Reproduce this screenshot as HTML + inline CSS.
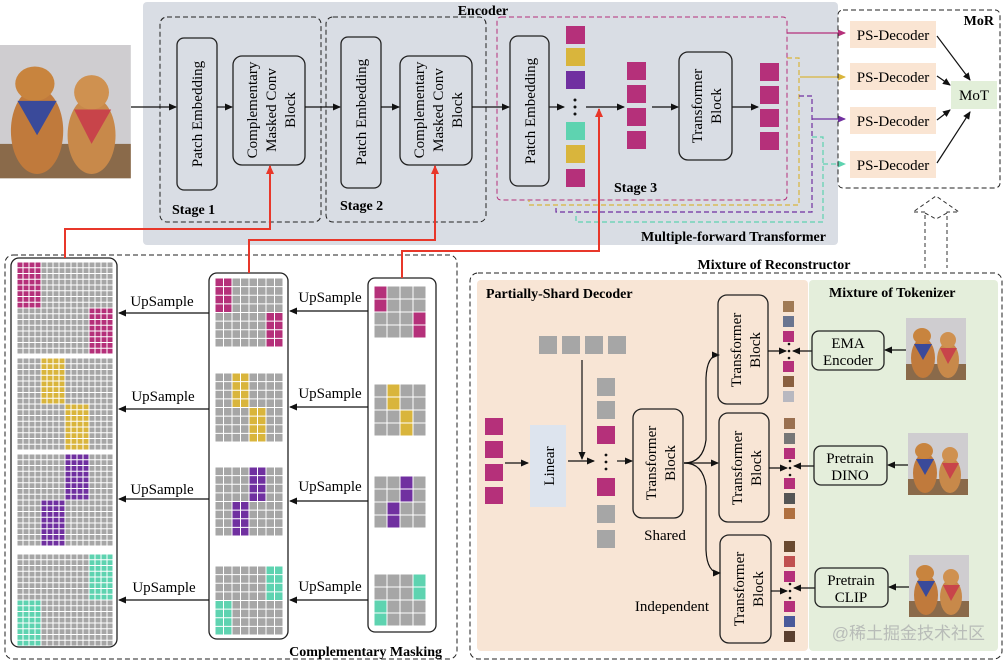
<!DOCTYPE html>
<html><head><meta charset="utf-8">
<style>
html,body{margin:0;padding:0;background:#fff;}
svg{display:block;font-family:"Liberation Serif","Noto Serif CJK SC",serif;}
.b{font-weight:bold;}
</style></head>
<body>
<svg id="s" width="1005" height="662" viewBox="0 0 1005 662" xmlns="http://www.w3.org/2000/svg">
<defs>
<marker id="ar" markerWidth="8" markerHeight="8" refX="7" refY="4" orient="auto" markerUnits="userSpaceOnUse"><path d="M0,0.5 L8,4 L0,7.5 Z" fill="#111"/></marker>
<marker id="arR" markerWidth="9" markerHeight="9" refX="8" refY="4.5" orient="auto" markerUnits="userSpaceOnUse"><path d="M0,0.5 L9,4.5 L0,8.5 Z" fill="#e8372a"/></marker>
<marker id="arM" markerWidth="8" markerHeight="8" refX="7" refY="4" orient="auto" markerUnits="userSpaceOnUse"><path d="M0,0.5 L8,4 L0,7.5 Z" fill="#b5307a"/></marker>
<marker id="arY" markerWidth="8" markerHeight="8" refX="7" refY="4" orient="auto" markerUnits="userSpaceOnUse"><path d="M0,0.5 L8,4 L0,7.5 Z" fill="#d9b53c"/></marker>
<marker id="arP" markerWidth="8" markerHeight="8" refX="7" refY="4" orient="auto" markerUnits="userSpaceOnUse"><path d="M0,0.5 L8,4 L0,7.5 Z" fill="#7030a0"/></marker>
<marker id="arT" markerWidth="8" markerHeight="8" refX="7" refY="4" orient="auto" markerUnits="userSpaceOnUse"><path d="M0,0.5 L8,4 L0,7.5 Z" fill="#5ed3b0"/></marker>
<g id="dog">
<rect x="0" y="0" width="60" height="62" fill="#cfcdd0"/>
<rect x="0" y="46" width="60" height="16" fill="#8a6a4a"/>
<ellipse cx="17" cy="40" rx="12" ry="20" fill="#c07a3c"/>
<ellipse cx="16" cy="18" rx="9" ry="8" fill="#c8843e"/>
<ellipse cx="42" cy="42" rx="11" ry="18" fill="#c8894a"/>
<ellipse cx="42" cy="22" rx="8" ry="8" fill="#cf9150"/>
<path d="M8,26 L26,26 L17,42Z" fill="#3a4a9a"/>
<path d="M34,30 L51,30 L42,46Z" fill="#c8444a"/>
</g>
</defs>

<rect x="143" y="2" width="695" height="243" rx="4" fill="#d9dde4"/>
<text x="483" y="15" class="b" font-size="14" text-anchor="middle">Encoder</text>

<g transform="translate(0,45) scale(2.18,2.15)"><use href="#dog"/></g>

<rect x="160" y="17" width="161" height="205" rx="7" fill="none" stroke="#222" stroke-dasharray="5,3"/>
<rect x="177" y="38" width="40" height="152" rx="7" fill="none" stroke="#222" stroke-width="1.3"/>
<text transform="translate(202,114) rotate(-90)" font-size="15" text-anchor="middle">Patch Embedding</text>
<rect x="233" y="56" width="72" height="109" rx="9" fill="none" stroke="#222" stroke-width="1.3"/>
<text transform="translate(257,110) rotate(-90)" font-size="15" text-anchor="middle">Complementary</text>
<text transform="translate(276,110) rotate(-90)" font-size="15" text-anchor="middle">Masked Conv</text>
<text transform="translate(295,110) rotate(-90)" font-size="15" text-anchor="middle">Block</text>
<text x="172" y="214" class="b" font-size="14">Stage 1</text>
<rect x="326" y="17" width="160" height="205" rx="7" fill="none" stroke="#222" stroke-dasharray="5,3"/>
<rect x="341" y="37" width="40" height="151" rx="7" fill="none" stroke="#222" stroke-width="1.3"/>
<text transform="translate(366,112) rotate(-90)" font-size="15" text-anchor="middle">Patch Embedding</text>
<rect x="400" y="56" width="72" height="109" rx="9" fill="none" stroke="#222" stroke-width="1.3"/>
<text transform="translate(424,110) rotate(-90)" font-size="15" text-anchor="middle">Complementary</text>
<text transform="translate(443,110) rotate(-90)" font-size="15" text-anchor="middle">Masked Conv</text>
<text transform="translate(462,110) rotate(-90)" font-size="15" text-anchor="middle">Block</text>
<text x="340" y="210" class="b" font-size="14">Stage 2</text>

<g stroke="#111" stroke-width="1.2" fill="none" marker-end="url(#ar)">
<line x1="131" y1="107" x2="176" y2="107"/>
<line x1="217" y1="107" x2="232" y2="107"/>
<line x1="305" y1="107" x2="340" y2="107"/>
<line x1="381" y1="107" x2="399" y2="107"/>
<line x1="472" y1="107" x2="509" y2="107"/>
<line x1="549" y1="107" x2="564" y2="107"/>
<line x1="586" y1="107" x2="624" y2="107"/>
<line x1="652" y1="107" x2="678" y2="107"/>
<line x1="732" y1="107" x2="758" y2="107"/>
</g>

<rect x="497" y="17" width="290" height="183" rx="4" fill="none" stroke="#b5307a" stroke-dasharray="5,3"/>
<rect x="510" y="36" width="39" height="150" rx="8" fill="none" stroke="#222" stroke-width="1.3"/>
<text transform="translate(535,111) rotate(-90)" font-size="15" text-anchor="middle">Patch Embedding</text>
<rect x="566" y="26" width="19" height="18" fill="#b5307a"/>
<rect x="566" y="48" width="19" height="18" fill="#d9b53c"/>
<rect x="566" y="71" width="19" height="18" fill="#7030a0"/>
<rect x="566" y="122" width="19" height="18" fill="#5ed3b0"/>
<rect x="566" y="145" width="19" height="18" fill="#d9b53c"/>
<rect x="566" y="169" width="19" height="18" fill="#b5307a"/>
<rect x="627" y="62" width="19" height="18" fill="#b5307a"/>
<rect x="627" y="85" width="19" height="18" fill="#b5307a"/>
<rect x="627" y="108" width="19" height="18" fill="#b5307a"/>
<rect x="627" y="131" width="19" height="18" fill="#b5307a"/>
<rect x="679" y="52" width="53" height="108" rx="9" fill="none" stroke="#222" stroke-width="1.3"/>
<text transform="translate(702,106) rotate(-90)" font-size="15" text-anchor="middle">Transformer</text>
<text transform="translate(721,106) rotate(-90)" font-size="15" text-anchor="middle">Block</text>
<rect x="760" y="63" width="19" height="18" fill="#b5307a"/>
<rect x="760" y="86" width="19" height="18" fill="#b5307a"/>
<rect x="760" y="109" width="19" height="18" fill="#b5307a"/>
<rect x="760" y="132" width="19" height="18" fill="#b5307a"/>
<text x="614" y="192" class="b" font-size="14">Stage 3</text>
<text x="826" y="241" class="b" font-size="14" text-anchor="end">Multiple-forward Transformer</text>

<g fill="none" stroke-width="1.2" stroke-dasharray="5,3">
<path d="M787,33 L845,33" stroke="#b5307a" stroke-dasharray="none" marker-end="url(#arM)"/>
<path d="M787,58 L799,58 L799,205 L529,205 L529,200" stroke="#d9b53c"/>
<path d="M800,77 L845,77" stroke="#d9b53c" stroke-dasharray="none" marker-end="url(#arY)"/>
<path d="M799,96 L812,96 L812,212 L556,212 L556,205" stroke="#7030a0"/>
<path d="M812,119 L845,119" stroke="#7030a0" stroke-dasharray="none" marker-end="url(#arP)"/>
<path d="M812,137 L823,137 L823,222 L576,222 L576,212" stroke="#5ed3b0"/>
<path d="M823,164 L845,164" stroke="#5ed3b0" marker-end="url(#arT)"/>
</g>

<rect x="838" y="10" width="162" height="178" rx="5" fill="none" stroke="#222" stroke-dasharray="5,3"/>
<text x="994" y="25" class="b" font-size="14" text-anchor="end">MoR</text>
<g font-size="15" text-anchor="middle">
<rect x="850" y="21" width="86" height="27" fill="#fae5d3"/><text x="893" y="40">PS-Decoder</text>
<rect x="850" y="63" width="86" height="27" fill="#fae5d3"/><text x="893" y="82">PS-Decoder</text>
<rect x="850" y="107" width="86" height="27" fill="#fae5d3"/><text x="893" y="126">PS-Decoder</text>
<rect x="850" y="151" width="86" height="27" fill="#fae5d3"/><text x="893" y="170">PS-Decoder</text>
<rect x="951" y="81" width="46" height="28" fill="#e2efd9"/><text x="974" y="100">MoT</text>
</g>
<g stroke="#111" stroke-width="1.2" marker-end="url(#ar)">
<line x1="937" y1="36" x2="970" y2="80"/>
<line x1="937" y1="76" x2="950" y2="85"/>
<line x1="937" y1="120" x2="950" y2="110"/>
<line x1="937" y1="163" x2="970" y2="112"/>
</g>
<path d="M925,268 L925,212 L913,212 L936,196 L959,212 L947,212 L947,268" fill="none" stroke="#333" stroke-dasharray="4,3"/>
<path d="M925,213 L936,219 L947,213" fill="none" stroke="#333" stroke-dasharray="4,3"/>

<rect x="5" y="255" width="452" height="404" rx="8" fill="none" stroke="#222" stroke-dasharray="5,3"/>
<rect x="11" y="258" width="106" height="389" rx="8" fill="#fff" stroke="#222" stroke-width="1.3"/>
<rect x="209" y="273" width="79" height="366" rx="8" fill="#fff" stroke="#222" stroke-width="1.3"/>
<rect x="368" y="278" width="68" height="354" rx="7" fill="#fff" stroke="#222" stroke-width="1.3"/>
<g id="grids"></g>
<g stroke="#111" stroke-width="1.2" marker-end="url(#ar)">
<line x1="209" y1="313" x2="119" y2="313"/>
<line x1="209" y1="409" x2="119" y2="409"/>
<line x1="209" y1="499" x2="119" y2="499"/>
<line x1="209" y1="600" x2="119" y2="600"/>
<line x1="368" y1="311" x2="290" y2="311"/>
<line x1="368" y1="407" x2="290" y2="407"/>
<line x1="368" y1="501" x2="290" y2="501"/>
<line x1="368" y1="600" x2="290" y2="600"/>
</g>
<g font-size="15" text-anchor="middle">
<text x="162" y="306">UpSample</text><text x="163" y="401">UpSample</text><text x="162" y="494">UpSample</text><text x="164" y="592">UpSample</text>
<text x="330" y="302">UpSample</text><text x="330" y="398">UpSample</text><text x="330" y="491">UpSample</text><text x="330" y="591">UpSample</text>
</g>
<text x="442" y="656" class="b" font-size="14" text-anchor="end">Complementary Masking</text>

<g fill="none" stroke="#e8372a" stroke-width="2" marker-end="url(#arR)">
<path d="M65,258 L65,229 L270,229 L270,166"/>
<path d="M249,273 L249,240 L435,240 L435,166"/>
<path d="M402,278 L402,251 L599,251 L599,109"/>
</g>

<text x="774" y="269" class="b" font-size="14" text-anchor="middle">Mixture of Reconstructor</text>
<rect x="477" y="280" width="331" height="371" rx="4" fill="#f8e5d5"/>
<rect x="809" y="280" width="189" height="371" rx="4" fill="#e4eedb"/>
<rect x="470" y="273" width="532" height="386" rx="8" fill="none" stroke="#222" stroke-dasharray="5,3"/>
<text x="486" y="298" class="b" font-size="14">Partially-Shard Decoder</text>
<text x="829" y="297" class="b" font-size="14">Mixture of Tokenizer</text>
<rect x="485" y="418" width="18" height="17" fill="#b5307a"/>
<rect x="485" y="441" width="18" height="17" fill="#b5307a"/>
<rect x="485" y="464" width="18" height="17" fill="#b5307a"/>
<rect x="485" y="487" width="18" height="17" fill="#b5307a"/>
<rect x="530" y="425" width="36" height="82" fill="#dde4ee"/>
<text transform="translate(554,466) rotate(-90)" font-size="15" text-anchor="middle">Linear</text>
<rect x="539" y="336" width="18" height="18" fill="#a6a6a6"/>
<rect x="562" y="336" width="18" height="18" fill="#a6a6a6"/>
<rect x="585" y="336" width="18" height="18" fill="#a6a6a6"/>
<rect x="608" y="336" width="18" height="18" fill="#a6a6a6"/>
<rect x="597" y="378" width="18" height="18" fill="#a6a6a6"/>
<rect x="597" y="401" width="18" height="18" fill="#a6a6a6"/>
<rect x="597" y="426" width="18" height="18" fill="#b5307a"/>
<rect x="597" y="478" width="18" height="18" fill="#b5307a"/>
<rect x="597" y="505" width="18" height="18" fill="#a6a6a6"/>
<rect x="597" y="530" width="18" height="18" fill="#a6a6a6"/>
<g fill="#111"><circle cx="606" cy="455" r="1.4"/><circle cx="606" cy="462" r="1.4"/><circle cx="606" cy="469" r="1.4"/>
<circle cx="575" cy="100" r="1.5"/><circle cx="575" cy="107" r="1.5"/><circle cx="575" cy="114" r="1.5"/></g>
<rect x="633" y="409" width="50" height="109" rx="9" fill="none" stroke="#222" stroke-width="1.3"/>
<text transform="translate(656,463) rotate(-90)" font-size="15" text-anchor="middle">Transformer</text>
<text transform="translate(675,463) rotate(-90)" font-size="15" text-anchor="middle">Block</text>
<text x="665" y="540" font-size="15" text-anchor="middle">Shared</text>
<text x="672" y="611" font-size="15" text-anchor="middle">Independent</text>
<g stroke="#111" stroke-width="1.2" fill="none" marker-end="url(#ar)">
<line x1="505" y1="463" x2="528" y2="463"/>
<line x1="568" y1="461" x2="594" y2="461"/>
<line x1="582" y1="360" x2="582" y2="459"/>
<line x1="617" y1="461" x2="632" y2="461"/>
<path d="M684,463 Q703,463 706,440 L706,378 Q707,355 719,355"/>
<line x1="684" y1="463" x2="718" y2="463"/>
<path d="M684,463 Q703,463 706,486 L706,550 Q707,573 720,573"/>
</g>
<g font-size="15" text-anchor="middle">
<rect x="718" y="295" width="50" height="109" rx="9" fill="none" stroke="#222" stroke-width="1.3"/>
<text transform="translate(741,350) rotate(-90)">Transformer</text><text transform="translate(760,350) rotate(-90)">Block</text>
<rect x="719" y="413" width="50" height="109" rx="9" fill="none" stroke="#222" stroke-width="1.3"/>
<text transform="translate(742,468) rotate(-90)">Transformer</text><text transform="translate(761,468) rotate(-90)">Block</text>
<rect x="720" y="535" width="51" height="108" rx="9" fill="none" stroke="#222" stroke-width="1.3"/>
<text transform="translate(744,589) rotate(-90)">Transformer</text><text transform="translate(763,589) rotate(-90)">Block</text>
</g>
<g>
<rect x="783" y="301" width="11" height="11" fill="#a07a55"/><rect x="783" y="316" width="11" height="11" fill="#6a7590"/><rect x="783" y="331" width="11" height="11" fill="#b5307a"/>
<rect x="783" y="361" width="11" height="11" fill="#b5307a"/><rect x="783" y="376" width="11" height="11" fill="#8a6040"/><rect x="783" y="391" width="11" height="11" fill="#b8b8c0"/>
<rect x="784" y="418" width="11" height="11" fill="#9a7050"/><rect x="784" y="433" width="11" height="11" fill="#777"/><rect x="784" y="448" width="11" height="11" fill="#b5307a"/>
<rect x="784" y="478" width="11" height="11" fill="#b5307a"/><rect x="784" y="493" width="11" height="11" fill="#555"/><rect x="784" y="508" width="11" height="11" fill="#b07040"/>
<rect x="784" y="541" width="11" height="11" fill="#6a4a30"/><rect x="784" y="556" width="11" height="11" fill="#c05050"/><rect x="784" y="571" width="11" height="11" fill="#b5307a"/>
<rect x="784" y="601" width="11" height="11" fill="#b5307a"/><rect x="784" y="616" width="11" height="11" fill="#4a5a9a"/><rect x="784" y="631" width="11" height="11" fill="#5a4030"/>
</g>
<g fill="#111">
<circle cx="789" cy="344" r="1.3"/><circle cx="789" cy="351" r="1.3"/><circle cx="789" cy="358" r="1.3"/>
<circle cx="790" cy="461" r="1.3"/><circle cx="790" cy="468" r="1.3"/><circle cx="790" cy="475" r="1.3"/>
<circle cx="790" cy="584" r="1.3"/><circle cx="790" cy="591" r="1.3"/><circle cx="790" cy="598" r="1.3"/>
</g>
<g stroke="#111" stroke-width="1.2" marker-end="url(#ar)">
<line x1="768" y1="351" x2="786" y2="351"/><line x1="769" y1="468" x2="787" y2="468"/><line x1="771" y1="591" x2="787" y2="591"/>
<line x1="812" y1="351" x2="793" y2="351"/><line x1="814" y1="466" x2="794" y2="466"/><line x1="815" y1="588" x2="794" y2="588"/>
<line x1="906" y1="350" x2="885" y2="350"/><line x1="908" y1="465" x2="888" y2="465"/><line x1="909" y1="587" x2="889" y2="587"/>
</g>
<g font-size="15" text-anchor="middle">
<rect x="812" y="331" width="72" height="39" rx="7" fill="none" stroke="#222" stroke-width="1.3"/><text x="848" y="348">EMA</text><text x="848" y="365">Encoder</text>
<rect x="814" y="446" width="73" height="39" rx="7" fill="none" stroke="#222" stroke-width="1.3"/><text x="850" y="463">Pretrain</text><text x="850" y="480">DINO</text>
<rect x="815" y="568" width="73" height="39" rx="7" fill="none" stroke="#222" stroke-width="1.3"/><text x="851" y="585">Pretrain</text><text x="851" y="602">CLIP</text>
</g>
<use href="#dog" x="906" y="318"/>
<use href="#dog" x="908" y="433"/>
<use href="#dog" x="909" y="555"/>
<text x="985" y="639" font-size="17" fill="#b8bcb8" text-anchor="end" font-family="Liberation Sans,Noto Sans CJK SC,sans-serif">@稀土掘金技术社区</text>
</svg>
<script>
(function(){
var g=document.getElementById('grids'),NS='http://www.w3.org/2000/svg';
var cols=['#b5307a','#d9b53c','#7030a0','#5ed3b0'];
var pats=[[[0,0],[1,0],[2,3],[3,3]],[[0,1],[1,1],[2,2],[3,2]],[[0,2],[1,2],[2,1],[3,1]],[[0,3],[1,3],[2,0],[3,0]]];
var L={x:17,w:96,ys:[262,358,454,554],n:16,h:92};
var M={x:215,w:68,ys:[278,373,467,566],n:8,h:69};
var R={x:374,w:52,ys:[286,384,476,574],n:4,h:52};
[L,M,R].forEach(function(G){
 G.ys.forEach(function(y0,i){
  var k=G.n/4,cw=G.w/G.n,ch=G.h/G.n;
  for(var r=0;r<G.n;r++)for(var c=0;c<G.n;c++){
   var cr=Math.floor(r/k),cc=Math.floor(c/k),f='#a6a6a6';
   pats[i].forEach(function(p){if(p[0]==cr&&p[1]==cc)f=cols[i];});
   var e=document.createElementNS(NS,'rect');
   e.setAttribute('x',G.x+c*cw+0.5);e.setAttribute('y',y0+r*ch+0.5);
   e.setAttribute('width',cw-1);e.setAttribute('height',ch-1);e.setAttribute('fill',f);
   g.appendChild(e);
  }
 });
});
})();
</script>
</body></html>
